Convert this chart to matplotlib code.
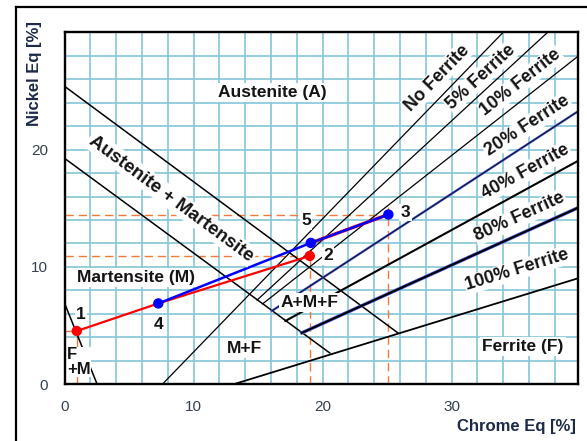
"""
Schaeffler diagram with weld dilution points.
"""

import matplotlib.pyplot as plt
import numpy as np
from matplotlib.lines import Line2D

plt.rcParams["font.family"] = ["Liberation Sans", "DejaVu Sans"]

# axes
CHROME_LIMITS = (0, 39.8)
NICKEL_LIMITS = (0, 30)
CHROME_TICKS = [0, 10, 20, 30]
NICKEL_TICKS = [0, 10, 20]
GRID_STEP = 2

# phase boundaries: A / A+M, A+M / M, M / F+M
BOUNDARY_CR = [[0.0, 25.85], [0.0, 20.57], [0.0, 2.53]]
BOUNDARY_NI = [[25.4, 4.37], [19.26, 2.66], [6.92, 0.0]]

# ferrite lines (start / end)
FERRITE_LABELS = [
    "No Ferrite",
    "5% Ferrite",
    "10% Ferrite",
    "20% Ferrite",
    "40% Ferrite",
    "80% Ferrite",
    "100% Ferrite",
]
FERRITE_CR = [
    [7.58, 34.0],
    [14.93, 37.45],
    [15.35, 39.85],
    [16.08, 39.85],
    [17.12, 39.85],
    [18.39, 39.85],
    [13.1, 39.85],
]
FERRITE_NI = [
    [0.0, 30.0],
    [7.18, 30.0],
    [6.85, 28.0],
    [6.26, 23.3],
    [5.40, 19.07],
    [4.38, 15.07],
    [0.0, 9.05],
]
FERRITE_LABEL_CR = [28.87, 32.25, 35.36, 35.87, 35.75, 35.29, 35.1]
FERRITE_LABEL_NI = [26.11, 26.18, 25.75, 22.0, 18.09, 14.26, 9.73]

# region names
REGION_LABELS = ["Austenite (A)", "Martensite (M)", "M+F", "A+M+F", "Ferrite (F)"]
REGION_CR = [16.11, 5.53, 13.95, 19.03, 35.55]
REGION_NI = [24.9, 9.09, 3.03, 6.96, 3.22]

# weld points
POINT_NAMES = ["1", "2", "3", "4", "5"]
POINT_CR = [0.95, 19.01, 25.1, 7.27, 19.09]
POINT_NI = [4.54, 10.94, 14.47, 6.89, 12.05]
POINT_COLORS = ["#ff0000", "#ff0000", "#0000ff", "#0000ff", "#0000ff"]

RED_PATH = ["1", "4", "2"]
BLUE_PATH = ["4", "5", "3"]

GRID_COLOR = "#84c6d8"
GUIDE_COLOR = "#f07a3a"
TEXT_BOX = dict(facecolor="white", edgecolor="none", pad=1.5)


def screen_angle(ax, xs, ys):
    p0, p1 = ax.transData.transform(
        np.column_stack([xs, ys])
    )
    return np.degrees(np.arctan2(p1[1] - p0[1], p1[0] - p0[0]))


fig = plt.figure(figsize=(5.87, 4.41), dpi=100)
ax = fig.add_axes([0.1099, 0.1286, 0.8748, 0.7982])

ax.set_xlim(*CHROME_LIMITS)
ax.set_ylim(*NICKEL_LIMITS)

# grid every 2 %
for gx in np.arange(GRID_STEP, CHROME_LIMITS[1], GRID_STEP):
    ax.axvline(gx, color=GRID_COLOR, linewidth=1.2, zorder=0)
for gy in np.arange(GRID_STEP, NICKEL_LIMITS[1], GRID_STEP):
    ax.axhline(gy, color=GRID_COLOR, linewidth=1.2, zorder=0)

point_x = dict(zip(POINT_NAMES, POINT_CR))
point_y = dict(zip(POINT_NAMES, POINT_NI))

# guide lines to the axes
ax.plot([0, point_x["1"]], [point_y["1"]] * 2, color=GUIDE_COLOR, lw=1, zorder=1)
ax.plot([point_x["1"]] * 2, [0, point_y["1"]], color=GUIDE_COLOR, lw=1, zorder=1)
for name in ["2", "3"]:
    ax.plot(
        [0, point_x[name]],
        [point_y[name]] * 2,
        color=GUIDE_COLOR,
        lw=1,
        linestyle=(0, (6, 3.5)),
        zorder=1,
    )
    ax.plot(
        [point_x[name]] * 2,
        [0, point_y[name] + 0.6],
        color=GUIDE_COLOR,
        lw=1,
        linestyle=(0, (6, 3.5)),
        zorder=1,
    )

# phase boundaries
for xs, ys in zip(BOUNDARY_CR, BOUNDARY_NI):
    ax.plot(xs, ys, color="black", lw=1.1, zorder=2)

# ferrite lines
for label, xs, ys in zip(FERRITE_LABELS, FERRITE_CR, FERRITE_NI):
    if label == "20% Ferrite":
        ax.plot(xs, ys, color="#4a5ee0", lw=1.7, zorder=2)
        ax.plot(xs, ys, color="#101030", lw=0.8, zorder=2)
    elif label == "80% Ferrite":
        ax.plot(xs, ys, color="#4a5ee8", lw=2.5, zorder=2)
        ax.plot(xs, ys, color="black", lw=1.5, zorder=2)
    elif label == "40% Ferrite":
        ax.plot(xs, ys, color="black", lw=1.5, zorder=2)
    elif label == "100% Ferrite":
        ax.plot(xs, ys, color="black", lw=1.3, zorder=2)
    else:
        ax.plot(xs, ys, color="black", lw=0.9, zorder=2)

# dilution paths
ax.plot(
    [point_x["5"], point_x["3"]],
    [point_y["5"], point_y["3"]],
    color="#ff0000",
    lw=2.4,
    zorder=3,
)
ax.plot(
    [point_x[n] for n in RED_PATH],
    [point_y[n] for n in RED_PATH],
    color="#ff0000",
    lw=1.6,
    zorder=3,
)
ax.plot(
    [point_x[n] for n in BLUE_PATH],
    [point_y[n] for n in BLUE_PATH],
    color="#0000ff",
    lw=1.8,
    zorder=3,
)
ax.scatter(POINT_CR, POINT_NI, s=42, c=POINT_COLORS, zorder=4)

# region labels
for label, x, y in zip(REGION_LABELS, REGION_CR, REGION_NI):
    ax.text(
        x, y, label,
        ha="center", va="center",
        fontsize=12.5, fontweight="bold",
        color="#141414", bbox=TEXT_BOX, zorder=5,
    )

ax.text(
    0.19, 1.9, "F\n+M",
    ha="left", va="center",
    fontsize=12, fontweight="bold", color="#141414",
    linespacing=0.95,
    bbox=dict(facecolor="white", edgecolor="none", pad=0.5),
    zorder=5,
)

am_angle = screen_angle(ax, BOUNDARY_CR[0], BOUNDARY_NI[0])
ax.text(
    8.28, 15.84, "Austenite + Martensite",
    ha="center", va="center",
    rotation=am_angle, rotation_mode="anchor",
    fontsize=13.5, fontweight="bold", color="#141414",
    bbox=TEXT_BOX, zorder=5,
)

for label, xs, ys, x, y in zip(
    FERRITE_LABELS, FERRITE_CR, FERRITE_NI, FERRITE_LABEL_CR, FERRITE_LABEL_NI
):
    ax.text(
        x, y, label,
        ha="center", va="center",
        rotation=screen_angle(ax, xs, ys), rotation_mode="anchor",
        fontsize=13, fontweight="bold", color="#141414",
        bbox=dict(facecolor="white", edgecolor="none", pad=0.8),
        zorder=5,
    )

# point numbers
point_offsets = {
    "1": (4, 17),
    "2": (18, 0),
    "3": (17, 2),
    "4": (0, -21),
    "5": (-5, 22),
}
for name in POINT_NAMES:
    ax.annotate(
        name,
        (point_x[name], point_y[name]),
        xytext=point_offsets[name],
        textcoords="offset pixels",
        ha="center", va="center",
        fontsize=12.5, fontweight="bold", color="#141414",
        bbox=dict(facecolor="white", edgecolor="none", pad=1.0),
        zorder=5,
    )

ax.set_xticks(CHROME_TICKS)
ax.set_yticks(NICKEL_TICKS)
ax.tick_params(length=0, labelsize=11, labelcolor="#34404f")
ax.tick_params(axis="x", pad=11)
ax.tick_params(axis="y", pad=12)

for spine in ax.spines.values():
    spine.set_linewidth(1.7)
    spine.set_color("black")
    spine.set_zorder(6)

fig.text(
    35 / 587, 1 - 74 / 441, "Nickel Eq [%]",
    rotation=90, ha="center", va="center",
    fontsize=12, fontweight="bold", color="#1c2a48",
)
fig.text(
    516 / 587, 1 - 427 / 441, "Chrome Eq [%]",
    ha="center", va="center",
    fontsize=12, fontweight="bold", color="#1c2a48",
)

# outer frame
fig.add_artist(Line2D([16 / 587, 16 / 587], [0, 1 - 7 / 441], color="black", lw=1.6))
fig.add_artist(Line2D([16 / 587, 1], [1 - 7 / 441, 1 - 7 / 441], color="black", lw=1.6))

fig.savefig("out.png", dpi=100)
